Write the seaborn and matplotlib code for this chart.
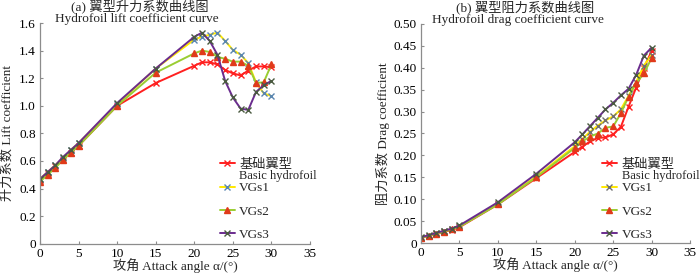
import numpy as np
import pandas as pd
import matplotlib
matplotlib.use('Agg')
import matplotlib.pyplot as plt
from matplotlib.ticker import FuncFormatter, MultipleLocator
import seaborn as sns

# angle of attack (deg)
angle = [0, 1, 2, 3, 4, 5, 10, 15, 20, 21, 22, 23, 24, 25, 26, 27, 28, 29, 30]

# lift coefficient
lift_basic = [0.46, 0.51, 0.56, 0.61, 0.66, 0.71, 1.00, 1.165, 1.29, 1.315, 1.315, 1.30, 1.26, 1.235, 1.22, 1.255, 1.285, 1.285, 1.28]
lift_vgs1 = [0.47, 0.52, 0.57, 0.62, 0.68, 0.73, 1.01, 1.27, 1.48, 1.50, 1.515, 1.53, 1.47, 1.405, 1.37, 1.31, 1.17, 1.09, 1.07]
lift_vgs2 = [0.45, 0.50, 0.55, 0.61, 0.66, 0.71, 1.00, 1.24, 1.38, 1.40, 1.39, 1.355, 1.34, 1.32, 1.32, 1.29, 1.165, 1.17, 1.30]
lift_vgs3 = [0.47, 0.52, 0.57, 0.63, 0.68, 0.73, 1.02, 1.27, 1.50, 1.53, 1.47, 1.37, 1.18, 1.06, 0.98, 0.97, 1.10, 1.15, 1.18]

# drag coefficient
drag_basic = [0.011, 0.016, 0.020, 0.025, 0.030, 0.036, 0.088, 0.148, 0.208, 0.220, 0.232, 0.240, 0.241, 0.248, 0.265, 0.311, 0.355, 0.400, 0.438]
drag_vgs1 = [0.012, 0.017, 0.022, 0.027, 0.032, 0.038, 0.090, 0.152, 0.221, 0.238, 0.254, 0.268, 0.280, 0.289, 0.305, 0.336, 0.368, 0.405, 0.430]
drag_vgs2 = [0.012, 0.017, 0.021, 0.026, 0.031, 0.037, 0.088, 0.150, 0.217, 0.232, 0.243, 0.250, 0.263, 0.266, 0.296, 0.334, 0.365, 0.387, 0.422]
drag_vgs3 = [0.013, 0.018, 0.023, 0.028, 0.033, 0.040, 0.093, 0.158, 0.230, 0.248, 0.267, 0.286, 0.305, 0.320, 0.337, 0.352, 0.384, 0.428, 0.446]

series_labels = ['基础翼型', 'VGs1', 'VGs2', 'VGs3']
basic_label_en = 'Basic hydrofoil'

sns.set_theme(style='ticks')
plt.rcParams['font.family'] = ['Liberation Serif', 'Noto Sans CJK SC']
plt.rcParams['xtick.direction'] = 'in'
plt.rcParams['ytick.direction'] = 'in'

FS = 9.5
GRAY = '#8c8c8c'

# line colour, marker, marker colour
styles = [
    ('#ff2020', 'x', '#ff2020'),
    ('#ffe800', 'x', '#5a86b0'),
    ('#9acd32', '^', '#e03a1a'),
    ('#6a2c8e', 'x', '#4a5a40'),
]

fig = plt.figure(figsize=(7, 2.74), dpi=100)
ax1 = fig.add_axes([40 / 700, 30.3 / 274, 270 / 700, 220.7 / 274])
ax2 = fig.add_axes([421 / 700, 31 / 274, 269 / 700, 219 / 274])


def draw_panel(ax, values, ylim, ystep, fmt, title1, title2, ylabel, tpos, leg_x, ylab_x, vgs1_marker):
    for (lc, mk, mc), vals, lab in zip(styles, values, series_labels):
        if lab == 'VGs1':
            mc = vgs1_marker
        df = pd.DataFrame({'angle': angle, 'coef': vals})
        sns.lineplot(data=df, x='angle', y='coef', ax=ax, color=lc, linewidth=1.4,
                     marker=mk, markersize=4.5 if mk == 'x' else 5,
                     markeredgecolor=mc, markerfacecolor=mc,
                     markeredgewidth=1.0, label=lab)
    ax.set_xlim(0, 35)
    ax.set_ylim(*ylim)
    ax.xaxis.set_major_locator(MultipleLocator(5))
    ax.yaxis.set_major_locator(MultipleLocator(ystep))
    ax.yaxis.set_major_formatter(FuncFormatter(lambda v, p: '0' if abs(v) < 1e-9 else fmt.format(v)))
    sns.despine(ax=ax)
    for s in ['left', 'bottom']:
        ax.spines[s].set_color(GRAY)
        ax.spines[s].set_linewidth(0.9)
    ax.tick_params(length=2.5, width=0.8, color=GRAY, labelsize=FS, labelcolor='black', pad=3)
    ax.set_xlabel('攻角 Attack angle α/(°)', fontsize=FS, va='center')
    ax.set_ylabel(ylabel, fontsize=FS, va='center')
    ax.xaxis.set_label_coords(0.5, -0.1)
    ax.yaxis.set_label_coords(ylab_x, 0.5)
    ax.text(tpos[0], 1.075, title1, transform=ax.transAxes, ha='center', va='center', fontsize=FS)
    ax.text(tpos[1], 1.02, title2, transform=ax.transAxes, ha='center', va='center', fontsize=FS)

    leg = ax.legend(loc='upper left', bbox_to_anchor=(leg_x, 0.385), frameon=False,
                    fontsize=FS, borderpad=0, borderaxespad=0, handlelength=1.15,
                    handletextpad=0.35, labelspacing=0.84)
    return leg


leg1 = draw_panel(ax1, [lift_basic, lift_vgs1, lift_vgs2, lift_vgs3], (0, 1.6), 0.2, '{:.1f}',
                  '(a) 翼型升力系数曲线图', 'Hydrofoil lift coefficient curve',
                  '升力系数 Lift coefficient', (0.37, 0.36), 0.665, -0.122, '#5a86b0')
leg2 = draw_panel(ax2, [drag_basic, drag_vgs1, drag_vgs2, drag_vgs3], (0, 0.5), 0.05, '{:.2f}',
                  '(b) 翼型阻力系数曲线图', 'Hydrofoil drag coefficient curve',
                  '阻力系数 Drag coefficient', (0.387, 0.36), 0.672, -0.14, '#707070')

# second line of the first legend label, placed under the Chinese text
fig.canvas.draw()
renderer = fig.canvas.get_renderer()
for leg in (leg1, leg2):
    bb = leg.get_texts()[0].get_window_extent(renderer)
    x0, y0 = fig.transFigure.inverted().transform((bb.x0, bb.y0))
    fig.text(x0, y0 + 1 / 274, basic_label_en, ha='left', va='top', fontsize=9)

fig.savefig('out.png', dpi=100, facecolor='white')
